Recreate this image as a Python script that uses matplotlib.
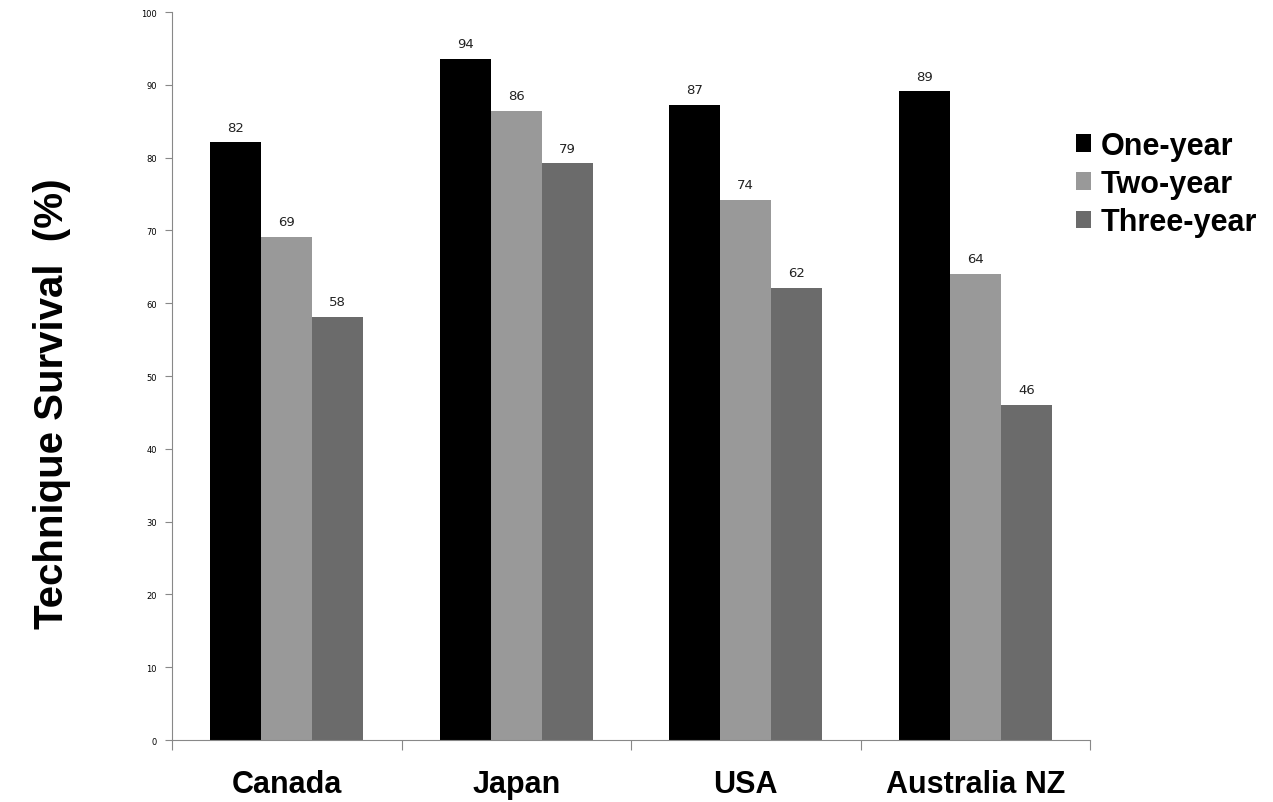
import matplotlib.pyplot as plt
import numpy as np

countries = ['Canada', 'Japan', 'USA', 'Australia NZ']
one_year = [82.1, 93.6, 87.2, 89.1]
two_year = [69.1, 86.4, 74.2, 64.0]
three_year = [58.1, 79.2, 62.1, 46.0]

series = [('One-year', one_year, '#000000'),
          ('Two-year', two_year, '#999999'),
          ('Three-year', three_year, '#6b6b6b')]

fig = plt.figure(figsize=(12.73, 8.03), dpi=100)
ax = fig.add_axes([0.1351, 0.0772, 0.8563 - 0.1351, 0.9838 - 0.0772])

x = np.arange(len(countries))
w = 0.222
for i, (name, vals, col) in enumerate(series):
    pos = x + (i - 1) * w
    bars = ax.bar(pos, vals, width=w, color=col, label=name)
    for b, v in zip(bars, vals):
        ax.text(b.get_x() + b.get_width() / 2, v + 1.2, '%.0f' % v,
                ha='center', va='bottom', fontsize=9.5, family='DejaVu Sans',
                color='#222222')

ax.set_xlim(-0.5, 3.5)
ax.set_ylim(0, 100)
ax.set_yticks(range(0, 101, 10))
ax.tick_params(axis='y', labelsize=6, length=5, color='#888888', pad=6)
ax.set_xticks(np.arange(-0.5, 4, 1.0))
ax.set_xticklabels([])
ax.tick_params(axis='x', length=7, color='#888888')
ax.set_xticks(x, minor=True)
ax.set_xticklabels(countries, minor=True, fontsize=22, fontweight='bold',
                   family='Liberation Sans')
ax.tick_params(axis='x', which='minor', length=0, pad=21)

for s in ['top', 'right']:
    ax.spines[s].set_visible(False)
for s in ['left', 'bottom']:
    ax.spines[s].set_color('#888888')

fig.text(0.041, 0.497, 'Technique Survival  (%)', rotation=90, ha='center',
         va='center', fontsize=29, fontweight='bold', family='Liberation Sans')

fig.legend(loc='upper left', bbox_to_anchor=(0.845, 0.836), frameon=False,
           prop={'family': 'Liberation Sans', 'weight': 'bold', 'size': 22},
           handlelength=0.5, handleheight=0.5, handletextpad=0.33,
           labelspacing=0.27, borderpad=0, borderaxespad=0)

fig.savefig('out.png', dpi=100)
